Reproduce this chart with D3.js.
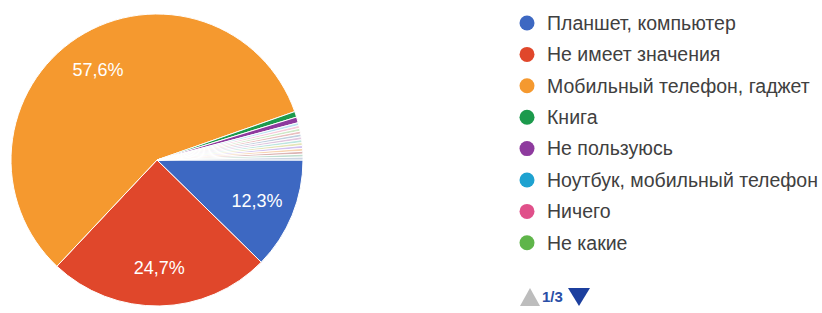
<!DOCTYPE html>
<html>
<head>
<meta charset="utf-8">
<script src="https://cdn.jsdelivr.net/npm/d3@7"></script>
<style>
  html, body { margin: 0; padding: 0; background: #fff; }
  svg { display: block; }
</style>
</head>
<body>
<div id="chart"></div>
<script>
// legend page 1/3
const categories = [
  "Планшет, компьютер",
  "Не имеет значения",
  "Мобильный телефон, гаджет",
  "Книга",
  "Не пользуюсь",
  "Ноутбук, мобильный телефон",
  "Ничего",
  "Не какие"
];
const counts = [39, 78, 182, 2, 2, 1, 1, 1];
const colors = ["#3d68c2", "#e0472b", "#f5992f", "#1c9a4c", "#8e3a9e", "#1ea2d0", "#e0508a", "#5fb54a"];

// answers from legend pages 2 and 3 (one vote each)
const otherCounts = [1, 1, 1, 1, 1, 1, 1, 1, 1, 1];
const otherColors = ["#b82e2e", "#316395", "#994499", "#22aa99", "#aaaa11",
                     "#6633cc", "#e67300", "#8b0707", "#329262", "#5574a6"];

const pageLabel = "1/3";

const width = 822, height = 313;
const cx = 157, cy = 160, radius = 146;

const svg = d3.select("#chart").append("svg")
  .attr("width", width)
  .attr("height", height);

// build slice list
var slices = counts.map(function(v, i) {
  return { name: categories[i], value: v, color: colors[i], main: i < 5 };
}).concat(otherCounts.map(function(v, i) {
  return { name: "other" + i, value: v, color: otherColors[i], main: false };
}));
var total = d3.sum(slices, d => d.value);

var pie = d3.pie()
  .sort(null)
  .value(d => d.value)
  .startAngle(Math.PI / 2)
  .endAngle(Math.PI / 2 + 2 * Math.PI);

var arc = d3.arc().innerRadius(0).outerRadius(radius);
var labelArc = d3.arc().innerRadius(radius * 0.74).outerRadius(radius * 0.74);

var g = svg.append("g").attr("transform", "translate(" + cx + "," + cy + ")");

var arcs = pie(slices);

g.selectAll("path.slice")
  .data(arcs)
  .enter()
  .append("path")
    .attr("class", "slice")
    .attr("d", arc)
    .attr("fill", d => d.data.color)
    .attr("fill-opacity", d => d.data.main ? 1 : 0.3)
    .attr("stroke", "#fff")
    .attr("stroke-width", 1);

// percentage labels, only for slices large enough
g.selectAll("text.pct")
  .data(arcs.filter(d => d.data.value / total > 0.05))
  .enter()
  .append("text")
    .attr("class", "pct")
    .attr("transform", d => "translate(" + labelArc.centroid(d) + ")")
    .attr("text-anchor", "middle")
    .attr("dy", "0.35em")
    .style("font-family", "'Liberation Sans', Arial, sans-serif")
    .style("font-size", "18px")
    .style("fill", "#fff")
    .text(d => d3.format(".1f")(d.data.value / total * 100).replace(".", ",") + "%");

// legend
var legendX = 527, legendY = 23, rowH = 31.4;
var legend = svg.append("g");
var rows = legend.selectAll("g.row")
  .data(categories)
  .enter()
  .append("g")
    .attr("class", "row")
    .attr("transform", (d, i) => "translate(" + legendX + "," + (legendY + i * rowH) + ")");

rows.append("circle")
  .attr("r", 7.5)
  .attr("fill", (d, i) => colors[i]);

rows.append("text")
  .attr("x", 20)
  .attr("dy", "0.35em")
  .style("font-family", "'Liberation Sans', Arial, sans-serif")
  .style("font-size", "19.5px")
  .style("fill", "#404040")
  .text(d => d);

// pager
var pager = svg.append("g").attr("transform", "translate(530,297)");
pager.append("path")
  .attr("d", "M-10,9 L0,-9 L10,9 Z")
  .attr("fill", "#bdbdbd");
pager.append("text")
  .attr("x", 12)
  .attr("dy", "0.35em")
  .style("font-family", "'Liberation Sans', Arial, sans-serif")
  .style("font-size", "15px")
  .style("font-weight", "bold")
  .style("fill", "#2a4ea6")
  .text(pageLabel);
pager.append("path")
  .attr("d", "M38,-9 L60,-9 L49,9 Z")
  .attr("fill", "#1c3f9e");
</script>
</body>
</html>
